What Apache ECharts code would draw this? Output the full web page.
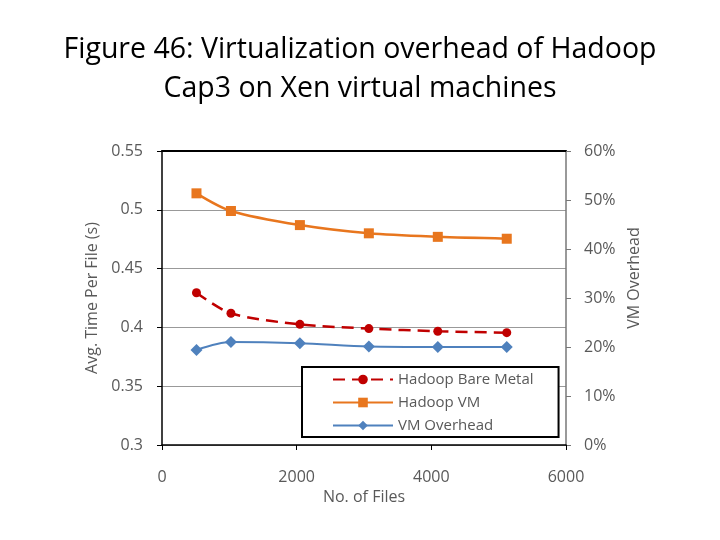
<!DOCTYPE html>
<html>
<head>
<meta charset="utf-8">
<script src="https://cdn.jsdelivr.net/npm/echarts@6/dist/echarts.min.js"></script>
<style>
html,body{margin:0;padding:0;background:#fff;}
#main{width:720px;height:540px;}
</style>
</head>
<body>
<div id="main"></div>
<script>
const files = [512, 1024, 2048, 3072, 4096, 5120];
const bareMetal = [0.4295, 0.412, 0.4026, 0.399, 0.3967, 0.3955];
const hadoopVM = [0.514, 0.499, 0.487, 0.480, 0.477, 0.4754];
const vmOverhead = [19.4, 21.0, 20.75, 20.1, 20.0, 20.0];
const titleText = 'Figure 46: Virtualization overhead of Hadoop\nCap3 on Xen virtual machines';

const pair = (xs, ys) => xs.map((x, i) => [x, ys[i]]);
const font = 'Open Sans, Noto Sans, sans-serif';
const grayText = '#595959';

const chart = echarts.init(document.getElementById('main'), null, {renderer: 'canvas'});
chart.setOption({
  animation: false,
  backgroundColor: '#fff',
  title: {
    text: titleText,
    left: 'center',
    top: 25,
    textStyle: {fontFamily: font, fontSize: 28.5, fontWeight: 500, color: '#000', lineHeight: 39}
  },
  grid: {left: 162, right: 154, top: 151, bottom: 95},
  legend: {
    orient: 'vertical',
    left: 302,
    top: 367,
    padding: [5, 25, 4, 30],
    backgroundColor: '#fff',
    borderColor: '#000',
    borderWidth: 2,
    borderRadius: 0,
    itemWidth: 60,
    itemHeight: 12,
    itemGap: 8,
    textStyle: {fontFamily: font, fontSize: 15, color: grayText, lineHeight: 14},
    data: ['Hadoop Bare Metal', 'Hadoop VM', 'VM Overhead']
  },
  xAxis: [{
    type: 'value',
    min: 0, max: 6000, interval: 2000,
    name: 'No. of Files',
    nameLocation: 'middle',
    nameGap: 42,
    nameTextStyle: {fontFamily: font, fontSize: 16, color: grayText},
    axisLine: {show: true, lineStyle: {color: '#000', width: 1.5}},
    axisTick: {show: true, length: 5, lineStyle: {color: '#000'}},
    axisLabel: {fontFamily: font, fontSize: 16, color: grayText, margin: 24,
      formatter: v => String(v)},
    splitLine: {show: false}
  }, {
    type: 'value',
    position: 'top',
    min: 0, max: 6000, interval: 2000,
    axisLine: {show: true, lineStyle: {color: '#000', width: 2}},
    axisTick: {show: false},
    axisLabel: {show: false},
    splitLine: {show: false}
  }],
  yAxis: [{
    type: 'value',
    position: 'left',
    min: 0.3, max: 0.55, interval: 0.05,
    name: 'Avg. Time Per File (s)',
    nameLocation: 'middle',
    nameGap: 48,
    nameTextStyle: {fontFamily: font, fontSize: 16, color: grayText},
    axisLine: {show: true, lineStyle: {color: '#000', width: 1.5}},
    axisTick: {show: true, length: 5, lineStyle: {color: '#000'}},
    axisLabel: {fontFamily: font, fontSize: 16, color: grayText, margin: 19,
      formatter: v => String(Math.round(v * 100) / 100)},
    splitLine: {show: true, lineStyle: {color: '#999', width: 1}}
  }, {
    type: 'value',
    position: 'right',
    min: 0, max: 60, interval: 10,
    name: 'VM Overhead',
    nameLocation: 'middle',
    nameGap: 58,
    nameTextStyle: {fontFamily: font, fontSize: 16, color: grayText, padding: [0, 0, 0, 40]},
    axisLine: {show: true, onZero: false, lineStyle: {color: '#777', width: 1.5}},
    axisTick: {show: true, length: 5, lineStyle: {color: '#777'}},
    axisLabel: {fontFamily: font, fontSize: 16, color: grayText, margin: 18, formatter: '{value}%'},
    splitLine: {show: false}
  }],
  series: [{
    name: 'Hadoop Bare Metal',
    type: 'line',
    xAxisIndex: 0, yAxisIndex: 0,
    data: pair(files, bareMetal),
    smooth: 0.3,
    symbol: 'circle',
    symbolSize: 9,
    color: '#C00000',
    itemStyle: {color: '#C00000'},
    lineStyle: {color: '#C00000', width: 2.5, type: [12, 7]}
  }, {
    name: 'Hadoop VM',
    type: 'line',
    xAxisIndex: 0, yAxisIndex: 0,
    data: pair(files, hadoopVM),
    smooth: 0.3,
    symbol: 'rect',
    symbolSize: 10,
    color: '#E8761E',
    itemStyle: {color: '#E8761E'},
    lineStyle: {color: '#E8761E', width: 2.5}
  }, {
    name: 'VM Overhead',
    type: 'line',
    xAxisIndex: 0, yAxisIndex: 1,
    data: pair(files, vmOverhead),
    smooth: 0.3,
    symbol: 'diamond',
    symbolSize: 12,
    color: '#4F81BD',
    itemStyle: {color: '#4F81BD'},
    lineStyle: {color: '#4F81BD', width: 2}
  }]
});
</script>
</body>
</html>
